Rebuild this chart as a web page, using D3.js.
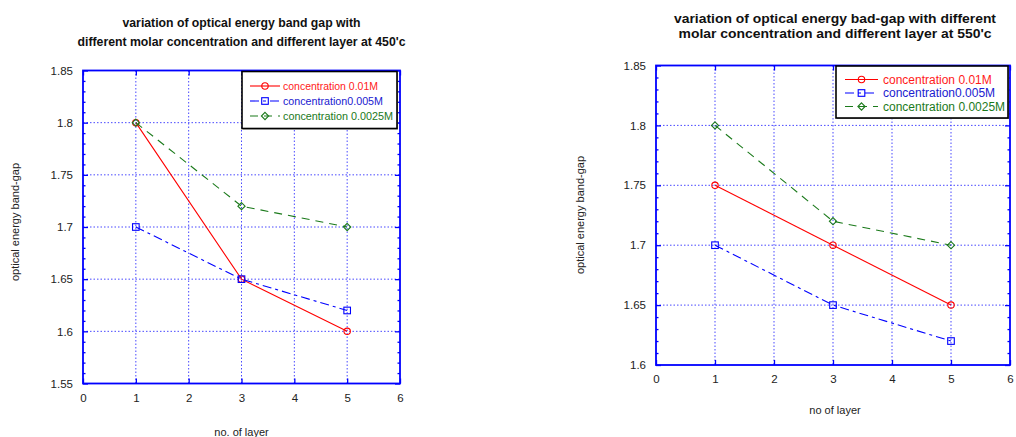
<!DOCTYPE html>
<html>
<head>
<meta charset="utf-8">
<script src="https://cdn.jsdelivr.net/npm/d3@7"></script>
<style>
  body { margin: 0; background: #fff; }
  svg { display: block; font-family: "Liberation Sans", Arial, sans-serif; }
</style>
</head>
<body>
<svg id="chart" width="1016" height="437"></svg>
<script>
// Number of deposited layers (x values shared by every series)
const layers = [1, 3, 5];
const seriesNames = ["concentration 0.01M", "concentration0.005M", "concentration 0.0025M"];

// Optical energy band gap (eV) at 450'c
const gap450_c001 = [1.80, 1.65, 1.60];
const gap450_c0005 = [1.70, 1.65, 1.62];
const gap450_c00025 = [1.80, 1.72, 1.70];

// Optical energy band gap (eV) at 550'c
const gap550_c001 = [1.75, 1.70, 1.65];
const gap550_c0005 = [1.70, 1.65, 1.62];
const gap550_c00025 = [1.80, 1.72, 1.70];

// Axis tick values
const xTicks = [0, 1, 2, 3, 4, 5, 6];
const yTicks450 = [1.55, 1.6, 1.65, 1.7, 1.75, 1.8, 1.85];
const yTicks550 = [1.6, 1.65, 1.7, 1.75, 1.8, 1.85];

const svg = d3.select("#chart");

const styles = [
  { color: "#ff0000", text: "#ff1a1a", dash: null, marker: "circle" },
  { color: "#0000ff", text: "#2020d0", dash: "9,4,3,4", marker: "square" },
  { color: "#1b7a1b", text: "#1b7a1b", dash: "8,6", marker: "diamond" }
];

function drawMarker(g, kind, x, y, color) {
  if (kind === "circle") {
    g.append("circle").attr("cx", x).attr("cy", y).attr("r", 3.2)
      .attr("fill", "none").attr("stroke", color).attr("stroke-width", 1.1);
  } else if (kind === "square") {
    g.append("rect").attr("x", x - 3.3).attr("y", y - 3.3).attr("width", 6.6).attr("height", 6.6)
      .attr("fill", "none").attr("stroke", color).attr("stroke-width", 1.1);
  } else {
    g.append("path").attr("d", `M${x},${y - 3.6}L${x + 3.6},${y}L${x},${y + 3.6}L${x - 3.6},${y}Z`)
      .attr("fill", "none").attr("stroke", color).attr("stroke-width", 1.1);
  }
}

function drawPanel(p) {
  const x = d3.scaleLinear().domain([0, 6]).range([p.left, p.right]);
  const y = d3.scaleLinear().domain(p.yDomain).range([p.bottom, p.top]);
  const g = svg.append("g");

  // Title
  p.title.forEach((line, i) => {
    g.append("text").attr("x", p.titleX).attr("y", p.titleY[i])
      .attr("text-anchor", "middle").attr("font-size", p.titleSize).attr("font-weight", "bold")
      .attr("fill", "#111").attr("textLength", p.titleWidths[i]).attr("lengthAdjust", "spacingAndGlyphs")
      .text(line);
  });

  // Dotted grid
  const grid = g.append("g").attr("stroke", "#2a2aff").attr("stroke-width", 1)
    .attr("stroke-dasharray", "1.5,2").attr("opacity", 0.85);
  xTicks.slice(1, -1).forEach(t => {
    grid.append("line").attr("x1", x(t)).attr("x2", x(t)).attr("y1", p.top).attr("y2", p.bottom);
  });
  p.yTicks.slice(1, -1).forEach(t => {
    grid.append("line").attr("x1", p.left).attr("x2", p.right).attr("y1", y(t)).attr("y2", y(t));
  });

  // Axes with inward ticks on all four sides
  const xb = d3.axisBottom(x).tickValues(xTicks).tickSizeInner(-5).tickSizeOuter(0).tickPadding(10).tickFormat(d3.format("d"));
  const xt = d3.axisTop(x).tickValues(xTicks).tickSizeInner(-5).tickSizeOuter(0).tickFormat("");
  const yl = d3.axisLeft(y).tickValues(p.yTicks).tickSizeInner(-5).tickSizeOuter(0).tickPadding(10).tickFormat(d => d3.format("")(+d.toFixed(2)));
  const yr = d3.axisRight(y).tickValues(p.yTicks).tickSizeInner(-5).tickSizeOuter(0).tickFormat("");

  const minor = d3.range(Math.round(p.yDomain[0] * 100), Math.round(p.yDomain[1] * 100) + 1)
    .map(v => v / 100).filter(v => Math.round(v * 100) % 5 !== 0);
  const ylm = d3.axisLeft(y).tickValues(minor).tickSizeInner(-2.5).tickSizeOuter(0).tickFormat("");
  const yrm = d3.axisRight(y).tickValues(minor).tickSizeInner(-2.5).tickSizeOuter(0).tickFormat("");

  const axes = [
    [xb, `translate(0,${p.bottom})`], [xt, `translate(0,${p.top})`],
    [yl, `translate(${p.left},0)`], [yr, `translate(${p.right},0)`],
    [ylm, `translate(${p.left},0)`], [yrm, `translate(${p.right},0)`]
  ];
  axes.forEach(([ax, tr]) => {
    const a = g.append("g").attr("transform", tr).call(ax);
    a.select(".domain").remove();
    a.selectAll("line").attr("stroke", "#0000ff").attr("stroke-width", 1.3);
    a.selectAll("text").attr("fill", "#222").attr("font-size", p.tickSize).attr("font-family", "Liberation Sans, Arial, sans-serif");
  });

  // Frame
  g.append("rect").attr("x", p.left).attr("y", p.top).attr("width", p.right - p.left)
    .attr("height", p.bottom - p.top).attr("fill", "none").attr("stroke", "#0000ff").attr("stroke-width", 1.8);

  // Series
  const line = d3.line().x(d => x(d[0])).y(d => y(d[1]));
  p.series.forEach((vals, i) => {
    const s = styles[i];
    const pts = layers.map((l, j) => [l, vals[j]]);
    g.append("path").datum(pts).attr("d", line).attr("fill", "none")
      .attr("stroke", s.color).attr("stroke-width", 1.1)
      .attr("stroke-dasharray", s.dash);
    pts.forEach(d => drawMarker(g, s.marker, x(d[0]), y(d[1]), s.color));
  });

  // Legend
  const L = p.legend;
  g.append("rect").attr("x", L.x + 1).attr("y", L.y + 1).attr("width", L.w).attr("height", L.h)
    .attr("fill", "#999");
  g.append("rect").attr("x", L.x).attr("y", L.y).attr("width", L.w).attr("height", L.h)
    .attr("fill", "#fff").attr("stroke", "#000").attr("stroke-width", 1.6);
  seriesNames.forEach((name, i) => {
    const s = styles[i];
    const ly = L.y + L.row0 + i * L.step;
    g.append("line").attr("x1", L.x + L.s0).attr("x2", L.x + L.s1).attr("y1", ly).attr("y2", ly)
      .attr("stroke", s.color).attr("stroke-width", 1.1).attr("stroke-dasharray", s.dash);
    drawMarker(g, s.marker, L.x + (L.s0 + L.s1) / 2, ly, s.color);
    const t = g.append("text").attr("x", L.x + L.tx).attr("y", ly + 4).attr("font-size", L.size)
      .attr("fill", s.text).text(name);
    if (L.widths) t.attr("textLength", L.widths[i]).attr("lengthAdjust", "spacingAndGlyphs");
  });

  // Axis labels
  g.append("text").attr("x", p.titleX).attr("y", p.xLabelY).attr("text-anchor", "middle")
    .attr("font-size", p.labelSize).attr("fill", "#222").text(p.xLabel);
  g.append("text").attr("transform", `translate(${p.yLabelX},${p.yLabelCY}) rotate(-90)`)
    .attr("text-anchor", "middle").attr("font-size", p.labelSize).attr("fill", "#222").text(p.yLabel);
}

drawPanel({
  left: 83, right: 400, top: 70.5, bottom: 383.5,
  yDomain: [1.55, 1.85], yTicks: yTicks450,
  series: [gap450_c001, gap450_c0005, gap450_c00025],
  title: ["variation of optical energy band gap with", "different molar concentration and different layer at 450'c"],
  titleX: 241.5, titleY: [27, 46], titleSize: 12.5, titleWidths: [238, 328],
  tickSize: 11.5, labelSize: 11,
  xLabel: "no. of layer", xLabelY: 436, yLabel: "optical energy band-gap", yLabelX: 19, yLabelCY: 222,
  legend: { x: 242, y: 71.5, w: 155, h: 57, row0: 14.5, step: 15, s0: 8, s1: 38, tx: 41, size: 11.5,
            widths: [95, 100, 110] }
});

drawPanel({
  left: 656, right: 1010, top: 65.5, bottom: 365,
  yDomain: [1.6, 1.85], yTicks: yTicks550,
  series: [gap550_c001, gap550_c0005, gap550_c00025],
  title: ["variation of optical energy bad-gap with different", "molar concentration and different layer at 550'c"],
  titleX: 835, titleY: [23, 38], titleSize: 12, titleWidths: [322, 313],
  tickSize: 11.5, labelSize: 11,
  xLabel: "no of layer", xLabelY: 414, yLabel: "optical energy band-gap", yLabelX: 584, yLabelCY: 215,
  legend: { x: 836, y: 66, w: 172, h: 52, row0: 13.5, step: 13.5, s0: 9, s1: 42, tx: 47, size: 12 }
});
</script>
</body>
</html>
